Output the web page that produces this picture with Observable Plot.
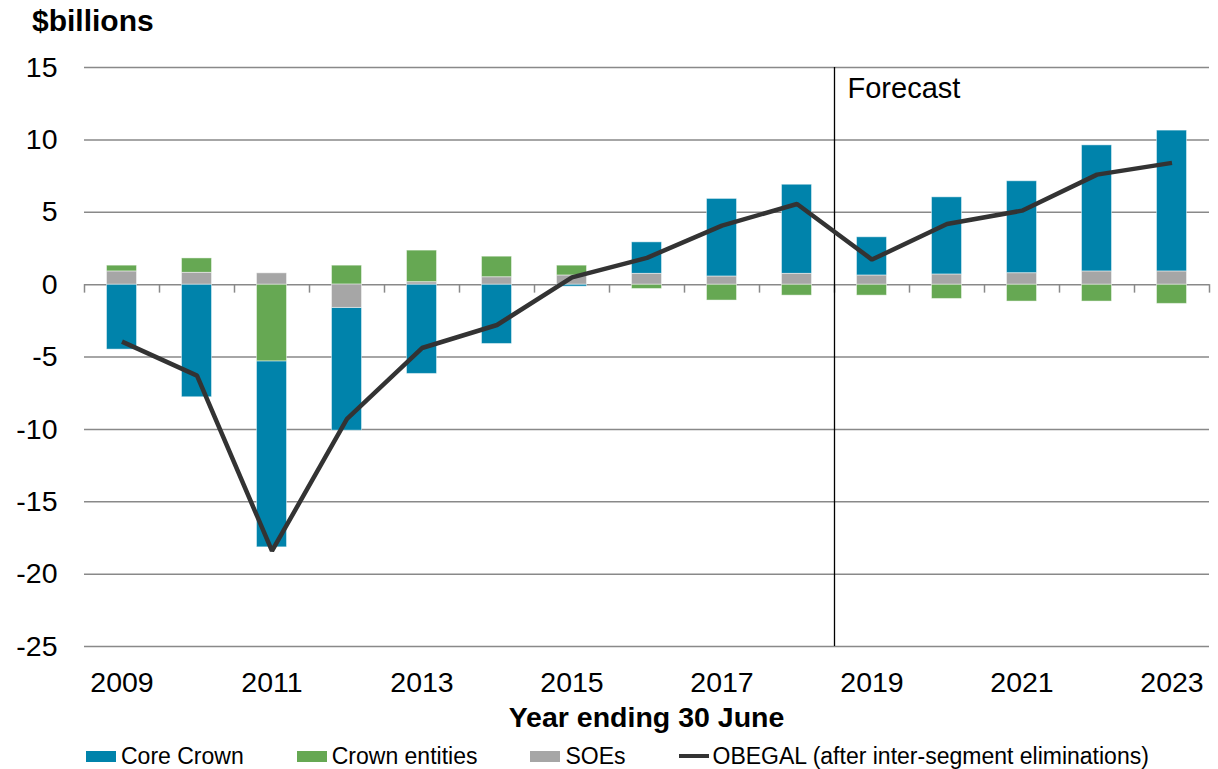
<!DOCTYPE html>
<html>
<head>
<meta charset="utf-8">
<script src="https://cdn.jsdelivr.net/npm/d3@7"></script>
<script src="https://cdn.jsdelivr.net/npm/@observablehq/plot@0.6"></script>
<style>
  body { margin: 0; background: #fff; }
  #wrap { position: relative; width: 1218px; height: 769px; font-family: "Liberation Sans", Arial, sans-serif; color: #000; overflow: hidden; }
  #title { position: absolute; left: 32px; top: 6px; font-size: 30px; font-weight: bold; line-height: 30px; }
  #chart { position: absolute; left: 0; top: 0; }
  #xlabel { position: absolute; left: 84px; width: 1125px; top: 703px; text-align: center; font-size: 28.5px; font-weight: bold; line-height: 28.5px; }
  #legend { position: absolute; left: 86px; top: 745px; display: flex; gap: 53px; font-size: 23px; line-height: 23px; white-space: nowrap; }
  .item { display: flex; align-items: flex-start; }
  .sw { width: 30px; height: 11px; margin-top: 6px; margin-right: 5px; }
  .ln { width: 30px; height: 4px; margin-top: 9px; margin-right: 4px; }
</style>
</head>
<body>
<div id="wrap">
  <div id="chart"></div>
  <div id="title">$billions</div>
  <div id="xlabel">Year ending 30 June</div>
  <div id="legend"></div>
</div>
<script>
// ---- data ----
const years = [2009, 2010, 2011, 2012, 2013, 2014, 2015, 2016, 2017, 2018, 2019, 2020, 2021, 2022, 2023];
const coreCrown     = [-4.49, -7.78, -12.85, -8.48, -6.17, -4.10, -0.14, 2.18, 5.37, 6.16, 2.65, 5.34, 6.36, 8.72, 9.74];
const crownEntities = [0.41, 1.00, -5.30, 1.31, 2.19, 1.43, 0.69, -0.30, -1.10, -0.76, -0.76, -0.99, -1.17, -1.17, -1.33];
const soes          = [0.90, 0.81, 0.78, -1.61, 0.16, 0.50, 0.62, 0.74, 0.55, 0.74, 0.62, 0.69, 0.78, 0.90, 0.90];
const obegal        = [-3.94, -6.29, -18.40, -9.28, -4.38, -2.79, 0.50, 1.85, 4.08, 5.57, 1.73, 4.19, 5.11, 7.60, 8.41];
const seriesNames = ["Core Crown", "Crown entities", "SOEs"];
const lineName = "OBEGAL (after inter-segment eliminations)";
const seriesColors = ["#0083AB", "#66A853", "#A6A6A6"];
const lineColor = "#333333";
const stackOrder = ["SOEs", "Crown entities", "Core Crown"];
const yTicks = [-25, -20, -15, -10, -5, 0, 5, 10, 15];
const xTickYears = [2009, 2011, 2013, 2015, 2017, 2019, 2021, 2023];
const forecastStart = 2018.5;
const forecastLabel = "Forecast";

// ---- tables built from arrays ----
const seriesValues = [coreCrown, crownEntities, soes];
const barRows = [];
seriesNames.forEach((s, si) => years.forEach((y, i) => barRows.push({year: y, series: s, value: seriesValues[si][i]})));
const lineRows = years.map((y, i) => ({year: y, value: obegal[i]}));
const boundaries = [years[0] - 0.5, ...years.map(y => y + 0.5)];
const halfBar = 0.2;

const chart = Plot.plot({
  width: 1218,
  height: 700,
  marginLeft: 84,
  marginRight: 9,
  marginTop: 67,
  marginBottom: 54,
  style: {fontFamily: "'Liberation Sans', Arial, sans-serif", fontSize: "28.5px", color: "#000", background: "#fff", overflow: "visible"},
  x: {type: "linear", domain: [years[0] - 0.5, years[years.length - 1] + 0.5]},
  y: {domain: [-25, 15]},
  color: {domain: seriesNames, range: seriesColors},
  marks: [
    Plot.ruleY(yTicks, {stroke: "#898989", strokeWidth: 1.5}),
    Plot.rectY(barRows, Plot.stackY({
      x: "year",
      x1: d => d.year - halfBar,
      x2: d => d.year + halfBar,
      y: "value",
      fill: "series",
      order: stackOrder,
      stroke: "#ffffff",
      strokeOpacity: 0.45,
      strokeWidth: 1
    })),
    Plot.ruleX(boundaries, {y1: 0, y2: 0, insetBottom: -8.5, stroke: "#898989", strokeWidth: 1.5}),
    Plot.ruleX([forecastStart], {stroke: "#000", strokeWidth: 1.3}),
    Plot.text([forecastLabel], {x: forecastStart, y: 15, text: d => d, textAnchor: "start", lineAnchor: "top", dx: 13, dy: 10, fontSize: 29, fill: "#000"}),
    Plot.lineY(lineRows, {x: "year", y: "value", stroke: lineColor, strokeWidth: 4.5, strokeLinejoin: "miter", strokeLinecap: "butt"}),
    Plot.axisY({ticks: yTicks, tickSize: 0, tickPadding: 27, label: null, tickFormat: d => String(d)}),
    Plot.axisX({ticks: xTickYears, tickSize: 0, tickPadding: 25, label: null, tickFormat: d => String(d)})
  ]
});
document.getElementById("chart").appendChild(chart);

// ---- legend ----
const legend = document.getElementById("legend");
seriesNames.forEach((s, i) => {
  const it = document.createElement("div"); it.className = "item";
  const sw = document.createElement("div"); sw.className = "sw"; sw.style.background = seriesColors[i];
  const tx = document.createElement("span"); tx.textContent = s;
  it.append(sw, tx); legend.append(it);
});
{
  const it = document.createElement("div"); it.className = "item";
  const sw = document.createElement("div"); sw.className = "ln"; sw.style.background = lineColor;
  const tx = document.createElement("span"); tx.textContent = lineName;
  it.append(sw, tx); legend.append(it);
}
</script>
</body>
</html>
